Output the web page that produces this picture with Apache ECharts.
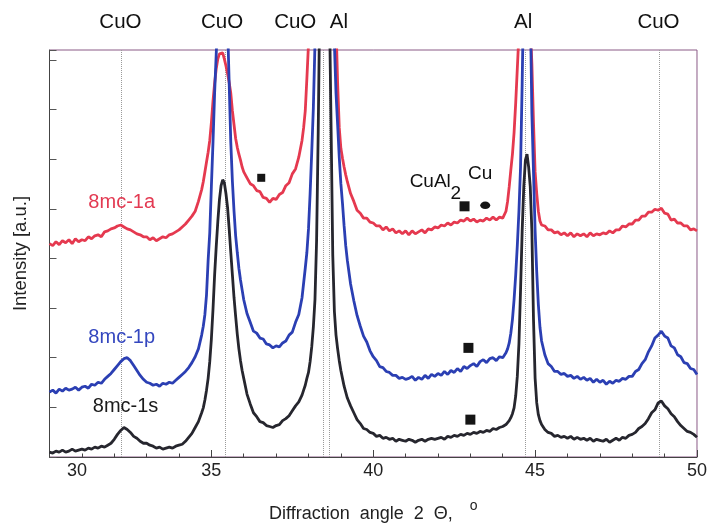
<!DOCTYPE html>
<html><head><meta charset="utf-8">
<script src="https://cdn.jsdelivr.net/npm/echarts@6/dist/echarts.min.js"></script>
<style>html,body{margin:0;padding:0;background:#fff}#c{width:710px;height:528px}</style>
</head><body><div id="c"></div>
<script>
// 2-theta sample positions (degrees)
const angles = [
30.0,30.1,30.2,30.3,30.4,30.5,30.6,30.7,30.8,30.9,
31.0,31.1,31.2,31.3,31.4,31.5,31.6,31.7,31.8,31.9,
32.0,32.1,32.2,32.3,32.4,32.5,32.6,32.7,32.8,32.9,
33.0,33.1,33.2,33.3,33.4,33.5,33.6,33.7,33.8,33.9,
34.0,34.1,34.2,34.3,34.4,34.5,34.6,34.7,
34.75,34.8,34.85,34.9,34.95,35.0,35.05,35.1,35.15,35.2,35.25,35.3,35.35,35.4,35.45,35.5,35.55,35.6,35.65,35.7,35.75,35.8,35.85,35.9,35.95,36.0,
36.1,36.2,36.3,36.4,36.5,36.6,36.7,36.8,36.9,37.0,37.1,37.2,37.3,37.4,37.5,37.6,37.7,37.8,
37.85,37.9,37.95,38.0,38.05,38.1,38.15,38.2,38.25,38.3,38.35,38.4,38.45,38.5,38.55,38.6,38.65,38.7,38.75,38.8,38.85,38.9,38.95,39.0,39.05,39.1,39.15,39.2,
39.3,39.4,39.5,39.6,39.7,39.8,39.9,
40.0,40.1,40.2,40.3,40.4,40.5,40.6,40.7,40.8,40.9,
41.0,41.1,41.2,41.3,41.4,41.5,41.6,41.7,41.8,41.9,
42.0,42.1,42.2,42.3,42.4,42.5,42.6,42.7,42.8,42.9,
43.0,43.1,43.2,43.3,43.4,43.5,43.6,43.7,43.8,43.9,
44.0,44.1,
44.15,44.2,44.25,44.3,44.35,44.4,44.45,44.5,44.55,44.6,44.65,44.7,44.75,44.8,44.85,44.9,44.95,45.0,45.05,45.1,45.15,45.2,
45.3,45.4,45.5,45.6,45.7,45.8,45.9,
46.0,46.1,46.2,46.3,46.4,46.5,46.6,46.7,46.8,46.9,
47.0,47.1,47.2,47.3,47.4,47.5,47.6,47.7,47.8,47.9,
48.0,48.1,48.2,48.3,48.4,48.5,48.6,48.7,48.8,48.9,
49.0,49.1,49.2,49.3,49.4,49.5,49.6,49.7,49.8,49.9,
50.0
];
// intensities (a.u.), sample 8mc-1a (red)
const red8mc1a = [
217,215,219,216,220,218,221,217,222,219,
221,220,224,222,225,226,224,229,230,232,
233,235,236,234,232,231,229,227,226,224,
224,221,223,220,222,224,223,226,227,229,
231,234,237,241,245,250,260,272,
280,290,300,310,322,340,362,380,395,405,410,412,411,405,398,390,381,370,352,338,324,315,308,302,295,290,
284,278,276,271,270,264,263,259,263,262,267,269,276,279,288,293,305,322,
335,352,385,420,470,540,620,700,780,850,900,950,980,990,980,950,900,800,650,520,440,380,335,314,304,295,287,280,
268,260,251,248,243,243,239,
238,235,235,231,234,230,232,228,230,227,
230,226,230,227,229,231,228,232,231,234,
233,236,235,238,236,239,238,241,240,243,
240,242,239,241,240,243,241,244,241,244,
243,250,
260,275,292,308,330,360,395,430,470,500,520,520,500,470,440,400,340,290,268,250,240,236,
235,231,231,228,229,226,228,
225,228,224,227,225,227,224,228,225,227,
226,228,227,230,228,231,231,235,234,237,
237,241,241,245,245,249,249,252,251,253,
248,247,241,242,238,238,235,235,231,232,
230
];
// sample 8mc-1p (blue)
const blue8mc1p = [
66,68,65,69,67,70,68,69,71,68,
71,72,70,74,73,76,75,79,82,85,
89,93,97,100,101,98,93,88,83,79,
76,75,73,74,72,75,74,76,75,78,
81,84,87,91,96,102,110,124,
133,145,165,200,228,275,320,370,410,450,490,515,525,510,480,440,380,320,280,250,225,208,192,180,170,160,
146,137,128,126,121,120,115,114,111,113,112,116,118,124,127,137,145,162,
177,192,208,232,268,310,355,420,520,650,780,880,920,900,850,780,680,580,480,420,370,338,305,278,258,235,215,200,
176,159,144,133,123,117,108,
102,98,92,91,87,86,83,83,80,81,
79,80,82,78,81,79,83,80,84,82,
85,83,87,84,88,86,90,87,92,90,
93,95,92,97,99,96,100,101,98,102,
101,106,
110,116,126,140,160,185,215,250,295,380,480,560,600,560,460,350,290,230,188,155,132,118,
104,95,92,87,87,84,85,
82,83,80,82,79,81,78,80,76,79,
76,78,74,77,75,78,77,80,79,82,
82,87,89,95,99,107,113,121,124,128,
123,121,113,111,104,102,96,95,90,89,
84
];
// sample 8mc-1s (black)
const black8mc1s = [
5,4,6,5,7,5,6,8,6,7,
8,7,9,8,10,9,11,10,12,14,
18,23,27,30,28,25,21,19,16,14,
14,12,11,9,10,8,9,10,9,11,
12,13,16,20,24,30,36,45,
50,58,68,80,97,120,150,185,214,240,262,276,282,279,268,254,232,208,185,162,143,125,110,98,88,80,
64,54,45,41,36,35,32,31,30,32,33,37,39,42,47,52,56,63,
68,73,80,86,97,112,132,160,220,330,470,620,750,800,760,640,450,330,205,148,124,110,98,88,80,72,66,60,
52,45,38,34,29,28,25,
24,21,22,19,20,18,19,16,18,17,
16,18,17,15,17,18,16,18,19,18,
19,20,18,21,20,22,21,23,22,24,
23,25,24,26,25,27,26,29,28,30,
31,33,
35,37,40,44,50,62,82,115,170,230,275,302,308,295,275,230,140,80,55,43,37,33,
28,25,24,21,22,20,21,
19,21,18,20,18,19,17,19,16,18,
17,16,18,15,17,19,17,20,19,22,
23,25,29,31,34,39,45,48,55,57,
52,49,44,41,36,32,29,26,25,23,
20
];
const sampleNames = ['8mc-1a', '8mc-1p', '8mc-1s'];
const sampleLabelAngles = [32.23, 32.23, 32.35];
const sampleLabelLevels = [259, 122, 51];
const peakLineAngles = [32.22, 35.43, 38.45, 38.63, 44.68, 48.82];
const peakLabels = ['CuO', 'CuO', 'CuO', 'Al', 'Al', 'CuO'];
const peakLabelAngles = [32.19, 35.33, 37.59, 38.94, 44.63, 48.81];
const peakLabelLevel = 442;
const cuAl2Marks = [[36.54, 284], [42.82, 255], [42.94, 111], [43.0, 38]];
const cuMarks = [[43.46, 256]];
const phaseTexts = ['CuAl', '2', 'Cu'];
const phaseTextPos = [[41.76, 280], [42.55, 268], [43.3, 288]];
const yMax = 414, yTickStep = 50.5;

[red8mc1a, blue8mc1p, black8mc1s].forEach((a, i) => {
  if (a.length !== angles.length) console.error('length mismatch', i, a.length, angles.length);
});

const FONT = '"Liberation Sans", Arial, sans-serif';
const colors = ['#e5394f', '#2b3fb3', '#26262e'];
const labelColors = ['#e33a52', '#3447bf', '#1a1a1a'];
const toPairs = arr => angles.map((x, i) => [x, arr[i]]);

const chart = echarts.init(document.getElementById('c'), null, { renderer: 'canvas' });

const curveSeries = [red8mc1a, blue8mc1p, black8mc1s].map((arr, i) => ({
  name: sampleNames[i], type: 'line', data: toPairs(arr), showSymbol: false, symbol: 'none',
  lineStyle: { color: colors[i], width: 2.8 }, itemStyle: { color: colors[i] },
  z: 3 + i, animation: false
}));
curveSeries[0].markLine = {
  silent: true, symbol: ['none', 'none'], label: { show: false },
  lineStyle: { color: '#9a9a9a', type: 'dotted', width: 1 },
  data: peakLineAngles.map(x => ({ xAxis: x })), animation: false, z: 1
};

const labelBase = { show: true, position: 'inside', fontFamily: FONT, textBorderWidth: 0 };
const textScatter = (pts, texts, style) => ({
  type: 'scatter', data: pts, symbolSize: 1, clip: false, silent: true, animation: false,
  itemStyle: { color: 'transparent', opacity: 1 }, z: 10,
  label: Object.assign({}, labelBase, { formatter: p => texts[p.dataIndex] }, style)
});

const sampleLabelSeries = textScatter([], sampleNames, { fontSize: 20 });
sampleLabelSeries.data = sampleLabelAngles.map((x, i) => ({
  value: [x, sampleLabelLevels[i]], label: { color: labelColors[i] } }));

const option = {
  backgroundColor: '#fff',
  animation: false,
  grid: { left: 49.5, right: 11, top: 50, bottom: 64, show: true, borderColor: '#8a5a86', borderWidth: 1 },
  xAxis: {
    type: 'value', min: 30, max: 50, interval: 5,
    axisLine: { lineStyle: { color: '#444', width: 1 } },
    axisTick: { inside: true, length: 7, lineStyle: { color: '#444' } },
    minorTick: { show: true, splitNumber: 5, length: 3.5, lineStyle: { color: '#444' } },
    splitLine: { show: false },
    axisLabel: { color: '#222', fontSize: 18, fontFamily: FONT, margin: 5,
      formatter: v => v === 30 ? '{s|30}' : String(v),
      rich: { s: { fontSize: 18, fontFamily: FONT, color: '#222', padding: [0, 0, 0, 55] } } },
    name: '{t|Diffraction  angle  2  Θ, }{o|o}', nameLocation: 'middle', nameGap: 42,
    nameTextStyle: { rich: {
      t: { fontSize: 18, fontFamily: FONT, color: '#222', lineHeight: 24, verticalAlign: 'bottom' },
      o: { fontSize: 14, fontFamily: FONT, color: '#222', verticalAlign: 'top', lineHeight: 24,
           padding: [0, 0, 0, 12] } } }
  },
  yAxis: {
    type: 'value', min: 0, max: yMax, interval: yTickStep,
    axisLine: { show: true, lineStyle: { color: '#444', width: 1 } },
    axisTick: { show: true, inside: true, length: 7, lineStyle: { color: '#555' } },
    axisLabel: { show: false }, splitLine: { show: false },
    name: 'Intensity [a.u.]', nameLocation: 'middle', nameGap: 19, nameRotate: 90,
    nameTextStyle: { fontSize: 18.5, fontFamily: FONT, color: '#222' }
  },
  series: [
    ...curveSeries,
    textScatter(peakLabelAngles.map(x => [x, peakLabelLevel]), peakLabels, { fontSize: 20.5, color: '#111' }),
    sampleLabelSeries,
    textScatter(phaseTextPos, phaseTexts, { fontSize: 19, color: '#111' }),
    { type: 'scatter', data: cuAl2Marks, symbol: 'rect',
      symbolSize: (v, p) => p.dataIndex === 0 ? 8 : 10, itemStyle: { color: '#151515', opacity: 1 },
      silent: true, animation: false, z: 11 },
    { type: 'scatter', data: cuMarks, symbol: 'circle', symbolSize: [10, 7.5],
      itemStyle: { color: '#151515', opacity: 1 }, silent: true, animation: false, z: 11 }
  ]
};
chart.setOption(option);
</script></body></html>
